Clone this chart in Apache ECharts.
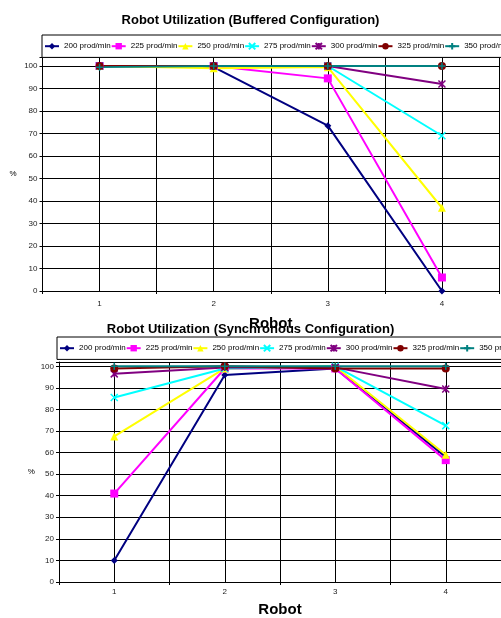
<!DOCTYPE html>
<html>
<head>
<meta charset="utf-8">
<script src="https://cdn.jsdelivr.net/npm/echarts@6/dist/echarts.min.js"></script>
<style>html,body{margin:0;padding:0;background:#fff}#c{width:501px;height:618px}</style>
</head>
<body>
<div id="c"></div>
<script>
const categories = ['1', '2', '3', '4'];
const seriesNames = ['200 prod/min', '225 prod/min', '250 prod/min', '275 prod/min', '300 prod/min', '325 prod/min', '350 prod/min'];
const yTicks = [0, 10, 20, 30, 40, 50, 60, 70, 80, 90, 100];

// Buffered configuration
const buf200 = [100, 99.5, 73.5, 0];
const buf225 = [100, 100, 94.5, 6];
const buf250 = [100, 99, 99.5, 37];
const buf275 = [100, 100, 100, 69];
const buf300 = [100, 100, 100, 92];
const buf325 = [100, 100, 100, 100];
const buf350 = [99.5, 100, 100, 100];

// Synchronous configuration
const syn200 = [10, 96, 99, 58];
const syn225 = [41, 99, 99, 56.5];
const syn250 = [67.5, 99, 100, 59];
const syn275 = [85.5, 99, 100, 72.5];
const syn300 = [96.5, 99.5, 99.5, 89.5];
const syn325 = [99, 100, 99, 99];
const syn350 = [100, 100, 100, 100];

const buffered = [buf200, buf225, buf250, buf275, buf300, buf325, buf350];
const synchronous = [syn200, syn225, syn250, syn275, syn300, syn325, syn350];

const FONT = 'Liberation Sans, Arial, sans-serif';
const styles = [
  {color: '#000080', symbol: 'diamond', size: 7, stroke: false},
  {color: '#FF00FF', symbol: 'rect', size: 8, stroke: false},
  {color: '#FFFF00', symbol: 'triangle', size: 8, stroke: false},
  {color: '#00FFFF', symbol: 'path://M0,0L10,10M10,0L0,10', size: 7, stroke: true},
  {color: '#800080', symbol: 'path://M0,0L10,10M10,0L0,10M5,0L5,10', size: 7, stroke: true},
  {color: '#800000', symbol: 'circle', size: 8, stroke: false},
  {color: '#008080', symbol: 'path://M5,0L5,10M0,5L10,5', size: 7, stroke: true}
];

function makeSeries(sets, idx) {
  return sets.map((vals, i) => {
    const s = styles[i];
    return {
      name: seriesNames[i],
      type: 'line',
      xAxisIndex: idx * 2,
      yAxisIndex: idx,
      data: vals,
      symbol: s.symbol,
      symbolSize: s.size,
      showAllSymbol: true,
      lineStyle: {color: s.color, width: 2},
      itemStyle: {color: s.color, borderColor: s.color, borderWidth: s.stroke ? 1.5 : 0},
      emphasis: {disabled: true},
      animation: false
    };
  });
}

function yAxis(gridIndex, max, gap) {
  return {
    type: 'value', gridIndex: gridIndex, min: 0, max: max, interval: 10,
    name: '%', nameLocation: 'middle', nameRotate: 0, nameGap: gap,
    nameTextStyle: {fontFamily: FONT, fontSize: 8, color: '#000'},
    axisLine: {show: true, lineStyle: {color: '#000', width: 1}},
    axisTick: {show: true, length: 3, lineStyle: {color: '#000'}},
    axisLabel: {fontFamily: FONT, fontSize: 8, color: '#222', margin: 5,
      formatter: v => (yTicks.indexOf(v) >= 0 ? String(v) : '')},
    splitLine: {show: true, lineStyle: {color: '#000', width: 1}}
  };
}

function xAxes(gridIndex, labelMargin, nameGap) {
  return [
    {
      type: 'category', gridIndex: gridIndex, data: categories, boundaryGap: true,
      name: 'Robot', nameLocation: 'middle', nameGap: nameGap,
      nameTextStyle: {fontFamily: FONT, fontSize: 15, fontWeight: 'bold', color: '#000'},
      axisLine: {show: true, onZero: false, lineStyle: {color: '#000', width: 1}},
      axisTick: {show: true, length: 3, lineStyle: {color: '#000'}},
      axisLabel: {fontFamily: FONT, fontSize: 8, color: '#222', margin: labelMargin},
      splitLine: {show: false}
    },
    {
      type: 'value', gridIndex: gridIndex, min: 0.5, max: 4.5, interval: 0.5,
      position: 'bottom',
      axisLine: {show: false}, axisTick: {show: false}, axisLabel: {show: false},
      splitLine: {show: true, lineStyle: {color: '#000', width: 1}}
    }
  ];
}

function legend(left, top) {
  return {
    left: left, top: top, width: 700,
    orient: 'horizontal',
    padding: [7, 2, 7, 2],
    itemWidth: 14, itemHeight: 8, itemGap: 0,
    borderColor: '#000', borderWidth: 1,
    backgroundColor: '#fff',
    textStyle: {fontFamily: FONT, fontSize: 8, color: '#000'},
    data: seriesNames
  };
}

const chart = echarts.init(document.getElementById('c'), null, {renderer: 'canvas'});
chart.setOption({
  backgroundColor: '#fff',
  animation: false,
  title: [
    {text: 'Robot Utilization (Buffered Configuration)', left: 'center', top: 9,
      textStyle: {fontFamily: FONT, fontSize: 13, fontWeight: 'bold', color: '#000'}},
    {text: 'Robot Utilization (Synchronous Configuration)', left: 'center', top: 318,
      textStyle: {fontFamily: FONT, fontSize: 13, fontWeight: 'bold', color: '#000'}}
  ],
  legend: [legend(42, 35), legend(57, 337)],
  grid: [
    {left: 42.5, right: 2, top: 57, bottom: 327},
    {left: 59, right: -8, top: 362, bottom: 34}
  ],
  xAxis: [].concat(xAxes(0, 9, 25), xAxes(1, 6, 20)),
  yAxis: [yAxis(0, 104, 26), yAxis(1, 102, 21)],
  series: [].concat(makeSeries(buffered, 0), makeSeries(synchronous, 1))
});
</script>
</body>
</html>
